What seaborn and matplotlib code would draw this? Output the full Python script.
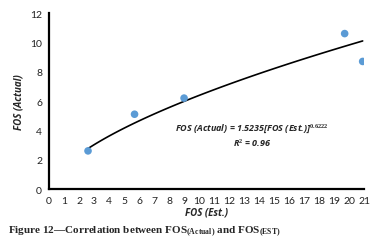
import numpy as np
import pandas as pd
import matplotlib
matplotlib.use("Agg")
import matplotlib.pyplot as plt
import seaborn as sns

# Data
fos_est = [2.6, 5.7, 9.0, 19.7, 20.9]
fos_actual = [2.6, 5.1, 6.2, 10.6, 8.7]
coef_a = 1.5235
coef_b = 0.6222
x_ticks = list(range(0, 22))
y_ticks = [0, 2, 4, 6, 8, 10, 12]

points = pd.DataFrame({"est": fos_est, "actual": fos_actual})
fit_x = np.linspace(min(fos_est), max(fos_est), 100)
fit = pd.DataFrame({"est": fit_x, "actual": coef_a * fit_x ** coef_b})

sns.set_style("white")
plt.rcParams["font.family"] = ["Lato", "DejaVu Sans"]
plt.rcParams["mathtext.fontset"] = "custom"
plt.rcParams["mathtext.it"] = "Open Sans:italic:bold"
plt.rcParams["mathtext.rm"] = "Liberation Serif:bold"

fig = plt.figure(figsize=(3.92, 2.51), dpi=100)
ax = fig.add_axes([0.125, 0.243, 0.804, 0.701])

sns.lineplot(data=fit, x="est", y="actual", color="black", linewidth=1.2, ax=ax)
sns.scatterplot(data=points, x="est", y="actual", color="#5b9bd5", s=30,
                edgecolor="none", ax=ax, zorder=3)

ax.set_xlim(0, 21)
ax.set_ylim(0, 12)
ax.set_xticks(x_ticks)
ax.set_yticks(y_ticks)
ax.tick_params(labelsize=7.5, length=3, width=1.1, color="black", pad=2,
               labelcolor="#222222")
ax.tick_params(axis="x", direction="inout", length=4, pad=3)
sns.despine(ax=ax)
for s in ["left", "bottom"]:
    ax.spines[s].set_linewidth(1.6)
    ax.spines[s].set_color("black")

lab = dict(fontsize=7, fontweight="bold", fontstyle="italic", family="Open Sans")
ax.set_xlabel("FOS (Est.)", labelpad=1, **lab)
ax.set_ylabel("FOS (Actual)", labelpad=4, **lab)

eq = dict(fontsize=6.5, fontweight="bold", fontstyle="italic", family="Open Sans",
          ha="center", va="center")
ax.text(13.5, 4.2, r"FOS (Actual) = 1.5235[FOS (Est.)]$^{\mathit{0.6222}}$", **eq)
ax.text(13.5, 3.2, r"R$^{\mathit{2}}$ = 0.96", **eq)

fig.text(0.02, 0.076,
         r"Figure 12—Correlation between FOS$_{\mathrm{(Actual)}}$ and FOS$_{\mathrm{(EST)}}$",
         fontsize=8.0, fontweight="bold", family="Liberation Serif", ha="left", va="center")

plt.savefig("out.png", dpi=100)
